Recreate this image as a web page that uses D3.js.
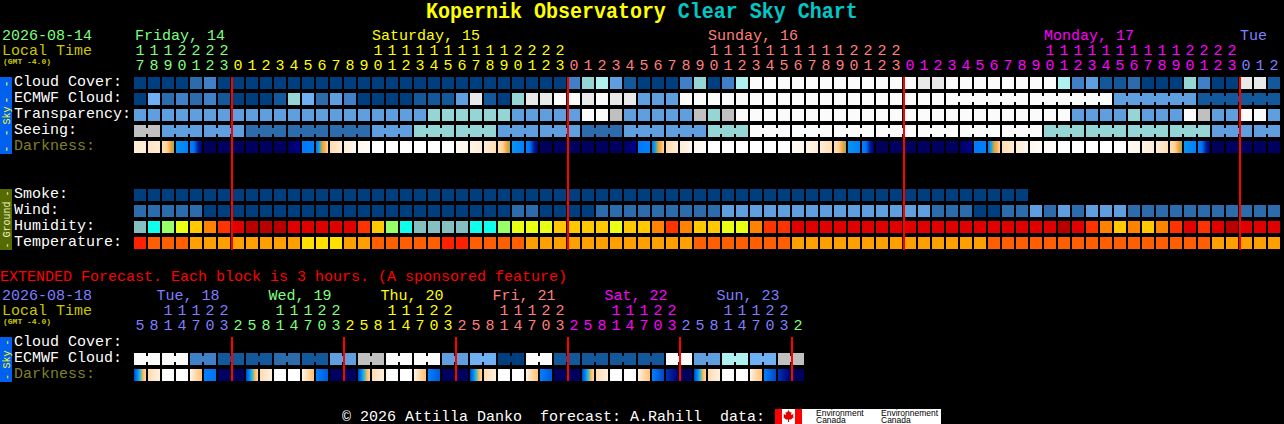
<!DOCTYPE html>
<html><head><meta charset="utf-8">
<style>html,body{margin:0;padding:0;background:#000;overflow:hidden}svg{display:block}text{white-space:pre;font-family:"Liberation Mono",monospace}</style>
<script src="https://cdnjs.cloudflare.com/ajax/libs/d3/7.8.5/d3.min.js"></script>
</head><body><script>
// ---- main forecast (hourly) ----
const hours=[17,18,19,20,21,22,23,
0,1,2,3,4,5,6,7,8,9,10,11,12,13,14,15,16,17,18,19,20,21,22,23,
0,1,2,3,4,5,6,7,8,9,10,11,12,13,14,15,16,17,18,19,20,21,22,23,
0,1,2,3,4,5,6,7,8,9,10,11,12,13,14,15,16,17,18,19,20,21,22,23,
0,1,2];
const dayStarts=[7,31,55,79];
const dayColors=["#7fff7f","#ffff00","#ff7f7f","#ff00ff","#7f7fff"];
const dayNames=["Friday, 14","Saturday, 15","Sunday, 16","Monday, 17","Tue"];
const dayLabelCols=[0,17,41,65,79];
const skyRows=["Cloud Cover:","ECMWF Cloud:","Transparency:","Seeing:","Darkness:"];
const groundRows=["Smoke:","Wind:","Humidity:","Temperature:"];
const cloudCover=[0,0,0,0,2,3,0,0,0,0,0,0,0,0,0,0,0,0,0,0,0,0,0,0,0,0,0,0,0,0,0,3,6,7,4,1,0,0,0,3,6,0,3,7,10,10,10,10,10,10,10,10,10,10,10,10,9,9,10,10,10,10,10,10,10,10,7,3,4,1,1,2,0,0,0,6,3,0,0,9,9,1];
const ecmwf=[0,5,2,3,2,3,1,0,0,0,1,6,5,2,4,3,0,0,0,0,1,1,1,4,9,1,0,6,9,9,10,10,9,10,9,9,4,4,4,10,10,10,10,10,10,10,10,10,10,10,10,10,10,10,10,10,10,10,10,10,10,10,10,10,10,10,10,10,10,10,4,4,4,4,4,4,1,1,1,1,1,1];
const ecmwfSpanStarts=[58,64,70,76];
const ecmwfSpanLength=6;
const transparency=[4,4,4,4,4,4,4,4,4,4,4,4,4,4,4,4,4,4,4,4,4,6,6,6,6,6,6,4,4,4,4,4,10,10,8,4,4,4,4,4,8,6,8,10,10,10,10,10,10,10,10,10,10,10,10,10,10,10,10,10,10,10,10,10,10,10,10,4,4,4,4,6,4,4,4,10,8,4,4,10,10,4];
const seeing=[8,8,4,4,4,4,4,4,2,2,2,2,2,2,2,2,2,4,4,4,6,6,6,6,6,6,4,4,4,4,4,4,2,2,2,4,4,4,4,4,4,6,6,6,10,10,10,10,10,10,10,10,10,10,10,10,10,10,10,10,10,10,10,10,10,6,6,6,6,6,6,6,6,6,6,6,6,4,4,4,4,4];
const seeingSpanStarts=[0,2,5,8,11,14,17,20,23,26,29,32,35,38,41,44,47,50,53,56,59,62,65,68,71,74,77,80];
const darkness=[[9,9.1],[8.6,9],[8.2,8,7.7,7,6.4],[5.3,5],[5,4.6,2.6,1],[1,.6],[1,1],[1,1],[1,1],[1,1],[1,1],[1,2],[4.8,5],[4.6,5.5,6.8,7.3,8],[8.2,9],[9,9.6],[9.6,9.8],
[10,10],[10,10],[10,10],[10,10],[10,10],[10,10],[9.7,9.5],[9.4,9],[9,8.3],[8.2,8,7.7,7,6.4],[5.3,5],[5,4.6,2.6,1],[1,.6],[1,1],[1,1],[1,1],[1,1],[1,1],[1,2],[4.8,5],[4.6,5.5,6.8,7.3,8],[8.2,9],[9,9.6],[9.6,9.8],
[10,10],[10,10],[10,10],[10,10],[10,10],[10,10],[9.7,9.5],[9.4,9],[9,8.3],[8.2,8,7.7,7,6.4],[5.3,5],[5,4.6,2.6,1],[1,.6],[1,1],[1,1],[1,1],[1,1],[1,1],[1,2],[4.8,5],[4.6,5.5,6.8,7.3,8],[8.2,9],[9,9.6],[9.6,9.8],[9.8,9.9],
[10,10],[10,10],[10,10],[10,10],[10,10],[9.7,9.5],[9.4,9],[9,8.3],[8.2,8,7.7,7,6.4],[5.3,5],[5,4.6,2.6,1],[1,.6],[1,1],[1,1],[1,1],[1,1]];
const smoke=[0,0,0,0,0,0,0,0,0,0,0,0,0,0,0,0,0,0,0,0,0,0,0,0,0,0,0,0,0,0,0,0,0,0,0,0,0,0,0,0,0,0,0,0,0,0,0,0,0,0,0,0,0,0,0,0,0,0,0,0,0,0,0,0];
const wind=[2,2,2,2,2,0,0,0,0,0,0,0,0,0,0,0,0,0,0,0,0,0,0,0,0,0,0,2,2,0,0,0,0,2,2,2,2,2,2,2,2,2,4,4,4,4,4,4,4,4,4,4,4,4,4,4,4,2,2,2,0,0,2,2,4,2,4,2,4,4,4,2,2,2,2,2,2,2,2,2,2,2];
const humidity=[0,1,2,3,4,5,6,7,8,8,8,7,7,7,7,7,6,4,2,1,0,0,0,0,1,1,2,3,3,3,4,4,4,4,3,4,4,5,6,5,4,4,3,3,5,6,6,7,7,7,7,7,7,7,7,7,7,7,7,7,7,7,7,7,7,7,8,7,6,5,4,5,4,5,6,7,6,7,8,7,7,7];
const temperature=[0,1,1,1,2,2,2,2,2,2,2,2,3,3,3,2,2,1,1,1,1,1,0,0,1,1,1,1,2,2,2,2,2,2,2,2,2,2,2,2,1,1,1,1,1,1,1,2,2,2,2,2,2,2,2,2,2,2,2,2,2,1,1,1,1,1,1,1,1,1,1,1,1,1,1,1,1,2,2,2,2,2];
// ---- extended forecast (3-hourly) ----
const extHours=[5,8,11,14,17,20,23,2,5,8,11,14,17,20,23,2,5,8,11,14,17,20,23,2,5,8,11,14,17,20,23,2,5,8,11,14,17,20,23,2,5,8,11,14,17,20,23,2];
const extDayStarts=[7,15,23,31,39,47];
const extDayColors=["#7f7fff","#7fff7f","#ffff00","#ff7f7f","#ff00ff","#7f7fff","#7fff7f"];
const extDayNames=["Tue, 18","Wed, 19","Thu, 20","Fri, 21","Sat, 22","Sun, 23"];
const extDayLabelCols=[1.6,9.6,17.6,25.6,33.6,41.6];
const extRows=["Cloud Cover:","ECMWF Cloud:","Darkness:"];
const extEcmwf=[10,10,10,10,3,3,1,1,1,1,2,2,1,1,4,4,8,8,10,10,10,10,4,4,5,5,0,0,10,10,1,1,1,1,1,1,1,1,10,10,4,4,7,7,5,5,8,8];
const extDarkness=[[3.5,5,6,7.4,8],[8.2,9.2],[10,10],[10,10],[9.4,8,7.6],[5,4.6],[1,1],[1,1],[3.5,5,6,7.4,8],[8.2,9.2],[10,10],[10,10],[9.4,8,7.6],[5,3.9],[1,1],[1,1],[3.5,5,6,7.4,8],[8.2,9.2],[10,10],[10,10],[9.4,8,7.6],[5,3.9],[1,1],[1,1],[3.5,5,6,7.4,8],[8.2,9.2],[10,10],[10,10],[9.4,8,7.6],[5,3.9],[1,1],[1,1],[3.5,5,6,7.4,8],[8.2,9.2],[10,10],[10,10],[9.4,8,7.6],[5,3.5],[3,1.5],[1,1],[3.5,5,6,7.4,8],[8.2,9.2],[10,10],[10,10],[9.4,8,7.6],[5,3.5],[3,1.5],[1,1]];
// ---- palettes ----
const cloudPalette=["#003f7f","#13589a","#2c6cac","#4080c8","#5f9fe0","#6fb0f5","#95d5d5","#aff0f0","#c0c0c0","#e9e9e9","#fbfbfb"];
const humidityPalette=["#85bfc2","#0fffec","#99ff66","#ebff14","#ffc800","#ff8200","#ff3300","#e00000","#b80000"];
const temperaturePalette=["#ff2000","#ff5f00","#ffa000","#ffe000"];
const darkPalette=["#000050","#000060","#000090","#0030b0","#0060e0","#0080ff","#20c0d0","#ffa020","#ffd8a8","#ffecd4","#ffffff"];

const cloudColor=d3.scaleOrdinal(d3.range(11),cloudPalette);
const humColor=d3.scaleOrdinal(d3.range(9),humidityPalette);
const tempColor=d3.scaleOrdinal(d3.range(4),temperaturePalette);
const darkColor=d3.scaleLinear().domain(d3.range(11)).range(darkPalette).interpolate(d3.interpolateRgb);

const svg=d3.select("body").append("svg").attr("width",1284).attr("height",424);
const defs=svg.append("defs");
const x=d3.scaleBand().domain(d3.range(82)).range([134,1280]).paddingInner(1/7);
const xe=d3.scaleBand().domain(d3.range(48)).range([134,804]).paddingInner(1/7);
const ySky=d3.scaleBand().domain(skyRows).range([77,153]).paddingInner(.25);
const yGround=d3.scaleBand().domain(groundRows).range([189,249]).paddingInner(.25);
const yExt=d3.scaleBand().domain(extRows).range([337,381]).paddingInner(.25);

function txt(s,px,py,fill,size,weight){
  return svg.append("text").attr("x",px).attr("y",py).attr("fill",fill)
    .attr("font-size",size||15).attr("font-weight",weight||"normal").text(s);
}
function cells(values,xs,ys,row,color){
  svg.append("g").selectAll("rect").data(values).join("rect")
    .attr("x",(d,i)=>xs(i)).attr("y",ys(row)).attr("width",xs.bandwidth()).attr("height",ys.bandwidth())
    .attr("fill",d=>color(d));
}
function necks(values,xs,ys,row,spans,color){
  // connector between neighbouring cells that belong to one forecast span
  const pairs=[];
  spans.forEach(([a,b])=>{for(let i=a;i<b;i++)pairs.push(i);});
  svg.append("g").selectAll("rect").data(pairs).join("rect")
    .attr("x",i=>xs(i)+xs.bandwidth()).attr("y",ys(row)+3).attr("width",xs.step()-xs.bandwidth())
    .attr("height",ys.bandwidth()-6).attr("fill",i=>color(values[i]));
}
function dark(values,xs,ys,row,prefix){
  const grads=defs.selectAll("linearGradient."+prefix).data(values).join("linearGradient")
    .attr("class",prefix).attr("id",(d,i)=>prefix+i);
  grads.selectAll("stop").data(d=>d).join("stop")
    .attr("offset",function(d,i){const n=this.parentNode.__data__.length;return i/(n-1);})
    .attr("stop-color",d=>darkColor(d));
  svg.append("g").selectAll("rect").data(values).join("rect")
    .attr("x",(d,i)=>xs(i)).attr("y",ys(row)).attr("width",xs.bandwidth()).attr("height",ys.bandwidth())
    .attr("fill",(d,i)=>`url(#${prefix}${i})`);
}
const rowLabel=(s,y,c)=>txt(s,14,y,c||"#fff");
function hourLabels(list,xs,starts,colors,ones,tens){
  const c=i=>colors[d3.bisectRight(starts,i)];
  svg.append("g").selectAll("text").data(list).join("text")
    .attr("x",(d,i)=>xs(i)+xs.bandwidth()/2).attr("y",ones).attr("text-anchor","middle")
    .attr("font-size",15).attr("fill",(d,i)=>c(i)).text(d=>d%10);
  const t=list.map((d,i)=>({d,i})).filter(o=>o.d>=10);
  svg.append("g").selectAll("text").data(t).join("text")
    .attr("x",o=>xs(o.i)+xs.bandwidth()/2).attr("y",tens).attr("text-anchor","middle")
    .attr("font-size",15).attr("fill",o=>c(o.i)).text(o=>Math.floor(o.d/10));
}
function sideBar(y0,y1,fill,color,word,dashSize,dashes){
  svg.append("rect").attr("x",0).attr("y",y0).attr("width",12).attr("height",y1-y0).attr("fill",fill);
  const rot=(s,yc,size)=>svg.append("text").attr("transform",`translate(9.5,${yc}) rotate(-90)`)
    .attr("text-anchor","middle").attr("fill",color).attr("font-size",size).attr("letter-spacing",size>10?1:0).text(s);
  rot(word[0],word[1],10);
  dashes.forEach(([s,y])=>rot(s,y,dashSize));
}

// Title
const title=svg.append("text").attr("transform","translate(426,18) scale(1,1.12)")
  .attr("font-size",20).attr("font-weight","bold").attr("fill","#ffff00");
title.append("tspan").text("Kopernik Observatory ");
title.append("tspan").attr("fill","#00c8c8").text("Clear Sky Chart");

// Main header
txt("2026-08-14",2,40,"#7fff7f");
txt("Local Time",2,55,"#c8c800");
txt("(GMT -4.0)",3,64,"#c8c800",8,"bold");
dayNames.forEach((n,i)=>txt(n,x(dayLabelCols[i])+(i==0?1:0),40,dayColors[i]));
hourLabels(hours,x,dayStarts,dayColors,70,55);

// Sky
skyRows.forEach((r,i)=>rowLabel(r,ySky(r)+9,i==4?"#808028":"#fff"));
cells(cloudCover,x,ySky,skyRows[0],cloudColor);
cells(ecmwf,x,ySky,skyRows[1],cloudColor);
necks(ecmwf,x,ySky,skyRows[1],ecmwfSpanStarts.map(s=>[s,s+ecmwfSpanLength-1]),cloudColor);
cells(transparency,x,ySky,skyRows[2],cloudColor);
cells(seeing,x,ySky,skyRows[3],cloudColor);
necks(seeing,x,ySky,skyRows[3],seeingSpanStarts.map((s,i)=>[s,(seeingSpanStarts[i+1]||82)-1]),cloudColor);
dark(darkness,x,ySky,skyRows[4],"dm");
sideBar(77,154,"#0060f0","#ffff00",["Sky",115.5],12,[["- -",91.5],["- -",140.5]]);

// Ground
groundRows.forEach(r=>rowLabel(r,yGround(r)+9));
cells(smoke,x,yGround,groundRows[0],cloudColor);
cells(wind,x,yGround,groundRows[1],cloudColor);
cells(humidity,x,yGround,groundRows[2],humColor);
cells(temperature,x,yGround,groundRows[3],tempColor);
sideBar(189,250,"#556b00","#f0f0d0",["Ground",219.5],10,[["-",193.5],["-",245.5]]);

// Day separators
svg.append("g").selectAll("line").data(dayStarts).join("line")
  .attr("x1",i=>x(i)).attr("x2",i=>x(i)).attr("y1",77).attr("y2",250)
  .attr("stroke","#ff0000").attr("stroke-width",2);

// Extended
txt("EXTENDED Forecast. Each block is 3 hours. (A sponsored feature)",0,281,"#ff0000");
txt("2026-08-18",2,300,"#7f7fff");
txt("Local Time",2,315,"#c8c800");
txt("(GMT -4.0)",3,324,"#c8c800",8,"bold");
extDayNames.forEach((n,i)=>txt(n,xe(0)+extDayLabelCols[i]*14,300,extDayColors[i]));
hourLabels(extHours,xe,extDayStarts,extDayColors,330,315);
extRows.forEach((r,i)=>rowLabel(r,yExt(r)+9,i==2?"#808028":"#fff"));
cells(extEcmwf,xe,yExt,extRows[1],cloudColor);
necks(extEcmwf,xe,yExt,extRows[1],d3.range(0,48,2).map(s=>[s,s+1]),cloudColor);
dark(extDarkness,xe,yExt,extRows[2],"de");
sideBar(337,382,"#0060f0","#ffff00",["Sky",359.5],10,[["-",342.5],["-",377]]);
svg.append("g").selectAll("line").data(extDayStarts).join("line")
  .attr("x1",i=>xe(i)).attr("x2",i=>xe(i)).attr("y1",337).attr("y2",381)
  .attr("stroke","#ff0000").attr("stroke-width",2);

// Footer
txt("\u00a9 2026 Attilla Danko  forecast: A.Rahill  data:",342,420.6,"#fff");
svg.append("rect").attr("x",775).attr("y",409).attr("width",166).attr("height",15).attr("fill","#fff");
svg.append("rect").attr("x",775).attr("y",409).attr("width",7).attr("height",15).attr("fill","#ff0000");
svg.append("rect").attr("x",795).attr("y",409).attr("width",7).attr("height",15).attr("fill","#ff0000");
svg.append("path").attr("transform","translate(788.5,410)").attr("fill","#e00000")
  .attr("d","M0,0 L1.5,2.5 L3,2 L2.5,5 L5,4 L4.5,6.5 L5.5,7 L2.5,9.5 L0.5,9.5 L0.5,12 L-0.5,12 L-0.5,9.5 L-2.5,9.5 L-5.5,7 L-4.5,6.5 L-5,4 L-2.5,5 L-3,2 L-1.5,2.5 Z");
const sans=(s,px,py)=>svg.append("text").attr("x",px).attr("y",py).attr("fill","#000")
  .style("font-family","'Liberation Sans'").attr("font-size",8.5).text(s);
sans("Environment",816,415.5);sans("Canada",816,422.5);
sans("Environnement",881,415.5);sans("Canada",881,422.5);
</script></body></html>
